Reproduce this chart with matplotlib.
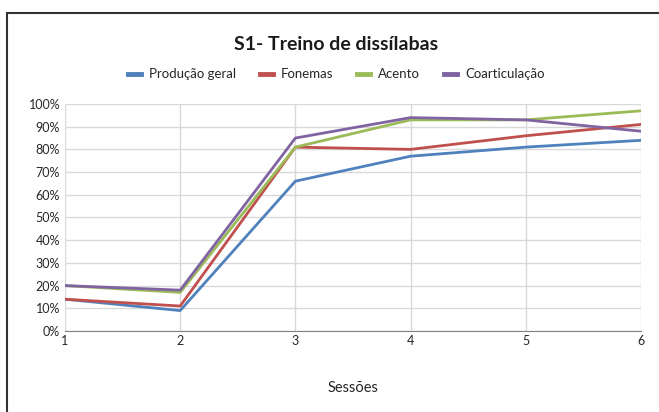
import matplotlib.pyplot as plt
from matplotlib.patches import Rectangle
from matplotlib.ticker import PercentFormatter

plt.rcParams['font.family'] = ['Lato', 'DejaVu Sans']

sessoes = [1, 2, 3, 4, 5, 6]
producao_geral = [14, 9, 66, 77, 81, 84]
fonemas = [14, 11, 81, 80, 86, 91]
acento = [20, 17, 81, 93, 93, 97]
coarticulacao = [20, 18, 85, 94, 93, 88]

series = [
    ("Produção geral", producao_geral, "#4F81BD"),
    ("Fonemas", fonemas, "#C0504D"),
    ("Acento", acento, "#9BBB59"),
    ("Coarticulação", coarticulacao, "#8064A2"),
]

fig = plt.figure(figsize=(6.59, 4.12), dpi=100)
ax = fig.add_axes([0.0986, 0.1966, 0.8741, 0.551])

for label, values, color in series:
    ax.plot(sessoes, values, color=color, linewidth=2, label=label)

ax.set_xlim(1, 6)
ax.set_ylim(0, 100)
ax.set_xticks(sessoes)
ax.set_yticks(range(0, 101, 10))
ax.yaxis.set_major_formatter(PercentFormatter(decimals=0))
ax.grid(True, color="#D9D9D9", linewidth=1)
ax.set_axisbelow(True)
for side in ("left", "right", "top"):
    ax.spines[side].set_visible(False)
ax.spines["bottom"].set_color("#808080")
ax.tick_params(axis="both", length=0, labelsize=9, colors="#262626")
ax.tick_params(axis="x", pad=3)
ax.set_xlabel("Sessões", fontsize=10.5, color="#262626", labelpad=24)

fig.text(0.51, 0.893, "S1- Treino de dissílabas", ha="center", va="center",
         fontsize=14, fontweight="bold", color="#1a1a1a")
fig.legend(loc="center", bbox_to_anchor=(0.51, 0.82), ncol=4, frameon=False,
           fontsize=9.5, handlelength=1.0, handletextpad=0.6, columnspacing=1.8,
           labelcolor="#262626")
for line in fig.legends[0].get_lines():
    line.set_linewidth(3.5)

fig.patches.append(Rectangle((0.0106, -0.1), 1.2, 1.068, transform=fig.transFigure,
                             fill=False, edgecolor="#333333", linewidth=1.5))

fig.savefig("out.png", dpi=100)
